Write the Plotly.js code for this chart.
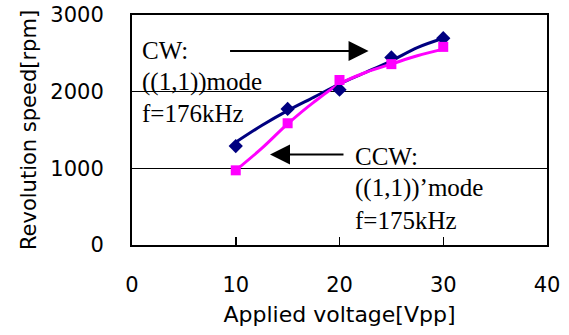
<!DOCTYPE html>
<html>
<head>
<meta charset="utf-8">
<script src="https://cdn.plot.ly/plotly-3.0.1.min.js"></script>
<style>html,body{margin:0;padding:0;background:#fff;}#chart{width:569px;height:335px;}</style>
</head>
<body>
<div id="chart"></div>
<script>
// Measured points
const voltage = [10, 15, 20, 25, 30];
const cwSpeed = [1290, 1775, 2026, 2446, 2697];
const ccwSpeed = [974, 1588, 2152, 2359, 2584];
// Trend lines
const trendVoltage = [10, 12.5, 15, 17.5, 20, 22.5, 25, 27.5, 30];
const cwTrend = [1340, 1558, 1753, 1926, 2100, 2250, 2403, 2575, 2697];
const ccwTrend = [974, 1260, 1580, 1861, 2100, 2250, 2360, 2468, 2555];
const xTicks = [0, 10, 20, 30, 40];
const yTicks = [0, 1000, 2000, 3000];

const navy = '#000080', magenta = '#FF00FF';
const serif = 'Liberation Serif, Times New Roman, serif';
const sans = 'DejaVu Sans, Arial, sans-serif';

const traces = [
  {x: trendVoltage, y: cwTrend, mode: 'lines', line: {color: navy, width: 3, shape: 'spline'}, hoverinfo: 'skip'},
  {x: trendVoltage, y: ccwTrend, mode: 'lines', line: {color: magenta, width: 3, shape: 'spline'}, hoverinfo: 'skip'},
  {x: voltage, y: cwSpeed, mode: 'markers', marker: {symbol: 'diamond', color: navy, size: 11}},
  {x: voltage, y: ccwSpeed, mode: 'markers', marker: {symbol: 'square', color: magenta, size: 10}}
];

function txt(text, x, y) {
  return {text: text, xref: 'paper', yref: 'paper', x: x, y: y, xanchor: 'left', yanchor: 'middle',
          showarrow: false, font: {family: serif, size: 25, color: '#000'}};
}
// paper coords: plot left 132, width 415; top 15, height 230
function px(p) { return (p - 132) / 415; }
function py(p) { return (245 - p) / 230; }

const layout = {
  width: 569, height: 335,
  margin: {l: 132, r: 22, t: 15, b: 90},
  paper_bgcolor: '#fff', plot_bgcolor: '#fff',
  showlegend: false,
  xaxis: {
    range: [0, 40], tickvals: xTicks, ticktext: xTicks.map(String),
    showgrid: false, zeroline: false,
    showline: true, linecolor: '#000', linewidth: 2, mirror: true,
    ticks: 'inside', ticklen: 8, tickwidth: 1.5, tickcolor: '#000',
    ticklabelstandoff: 20,
    tickfont: {family: sans, size: 21, color: '#000'},
    title: {text: 'Applied voltage[Vpp]', font: {family: sans, size: 22, color: '#000'}, standoff: 10}
  },
  yaxis: {
    range: [0, 3000], tickvals: yTicks, ticktext: yTicks.map(String),
    showgrid: true, gridcolor: '#000', gridwidth: 1.5, zeroline: false,
    showline: true, linecolor: '#000', linewidth: 2, mirror: true,
    ticks: '', ticklabelstandoff: 22,
    tickfont: {family: sans, size: 21, color: '#000'},
    title: {text: 'Revolution speed[rpm]', font: {family: sans, size: 21, color: '#000'}, standoff: 8}
  },
  annotations: [
    txt('CW:', px(140), py(50)),
    txt('((1,1))mode', px(140), py(82)),
    txt('f=176kHz', px(140), py(113)),
    txt('CCW:', px(353), py(156)),
    txt('((1,1))\u2019mode', px(353), py(188)),
    txt('f=175kHz', px(353), py(220)),
    {x: 22.8, y: 2532, xref: 'x', yref: 'y', ax: -140, ay: 0, text: '', showarrow: true,
     arrowhead: 2, arrowsize: 2, arrowwidth: 2, arrowcolor: '#000'},
    {x: 13.3, y: 1182, xref: 'x', yref: 'y', ax: 75, ay: 0, text: '', showarrow: true,
     arrowhead: 2, arrowsize: 2, arrowwidth: 2, arrowcolor: '#000'}
  ]
};

Plotly.newPlot('chart', traces, layout, {displayModeBar: false, staticPlot: true});
</script>
</body>
</html>
